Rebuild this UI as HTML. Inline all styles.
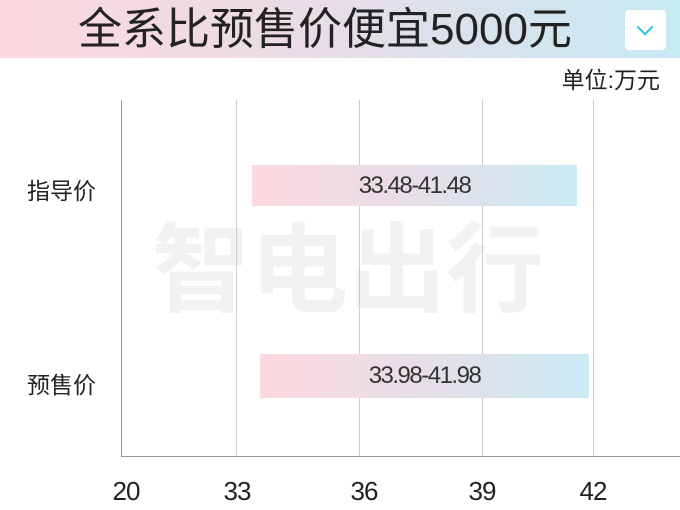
<!DOCTYPE html>
<html><head><meta charset="utf-8"><style>
body{margin:0;width:680px;height:510px;background:#fff;position:relative;overflow:hidden;font-family:"Liberation Sans","Noto Sans CJK SC",sans-serif;color:#222}
.hdr{position:absolute;left:0;top:0;width:680px;height:58px;background:linear-gradient(90deg,#fdd8df,#e6dde6 50%,#c6eaf4)}
.ttl{position:absolute;left:0;width:650px;top:5px;text-align:center;font-size:44px;line-height:50px;color:#222;font-weight:400;letter-spacing:0px}
.dd{position:absolute;left:625px;top:10px;width:41px;height:40px;background:#fff;border-radius:4px}
.dd:after{content:"";position:absolute;left:14px;top:11px;width:10px;height:10px;border-right:2px solid #2bc4e0;border-bottom:2px solid #2bc4e0;transform:rotate(45deg)}
.abs{position:absolute}
.g{position:absolute;top:100px;width:1px;height:357px;background:#ccc}
.bar{position:absolute;background:linear-gradient(90deg,#fdd9e0,#e6dee7 50%,#c9eaf4);text-align:center;font-size:24px;letter-spacing:-1.5px;color:#333}
.lab{position:absolute;font-size:23px;color:#222}
.tk{position:absolute;top:476px;font-size:26px;width:60px;text-align:center;color:#222;letter-spacing:-1px}
</style></head><body>
<div class="hdr"></div>
<div class="ttl">全系比预售价便宜5000元</div>
<div class="dd"></div>
<div class="abs" style="right:20px;top:64px;font-size:23px;line-height:32px">单位:万元</div>
<div class="abs" style="left:152px;top:205px;font-size:98px;font-weight:bold;color:#f2f2f2;letter-spacing:0px;line-height:130px">智电出行</div>
<div class="g" style="left:121px;background:#999"></div>
<div class="g" style="left:236px"></div>
<div class="g" style="left:359px"></div>
<div class="g" style="left:482px"></div>
<div class="g" style="left:593px"></div>
<div class="abs" style="left:121px;top:456px;width:559px;height:1px;background:#999"></div>
<div class="bar" style="left:252px;top:165px;width:325px;height:41px;line-height:41px">33.48-41.48</div>
<div class="bar" style="left:260px;top:354px;width:329px;height:44px;line-height:44px">33.98-41.98</div>
<div class="lab" style="left:27px;top:172px">指导价</div>
<div class="lab" style="left:27px;top:366px">预售价</div>
<div class="tk" style="left:96px">20</div>
<div class="tk" style="left:207px">33</div>
<div class="tk" style="left:334px">36</div>
<div class="tk" style="left:452px">39</div>
<div class="tk" style="left:563px">42</div>
</body></html>
